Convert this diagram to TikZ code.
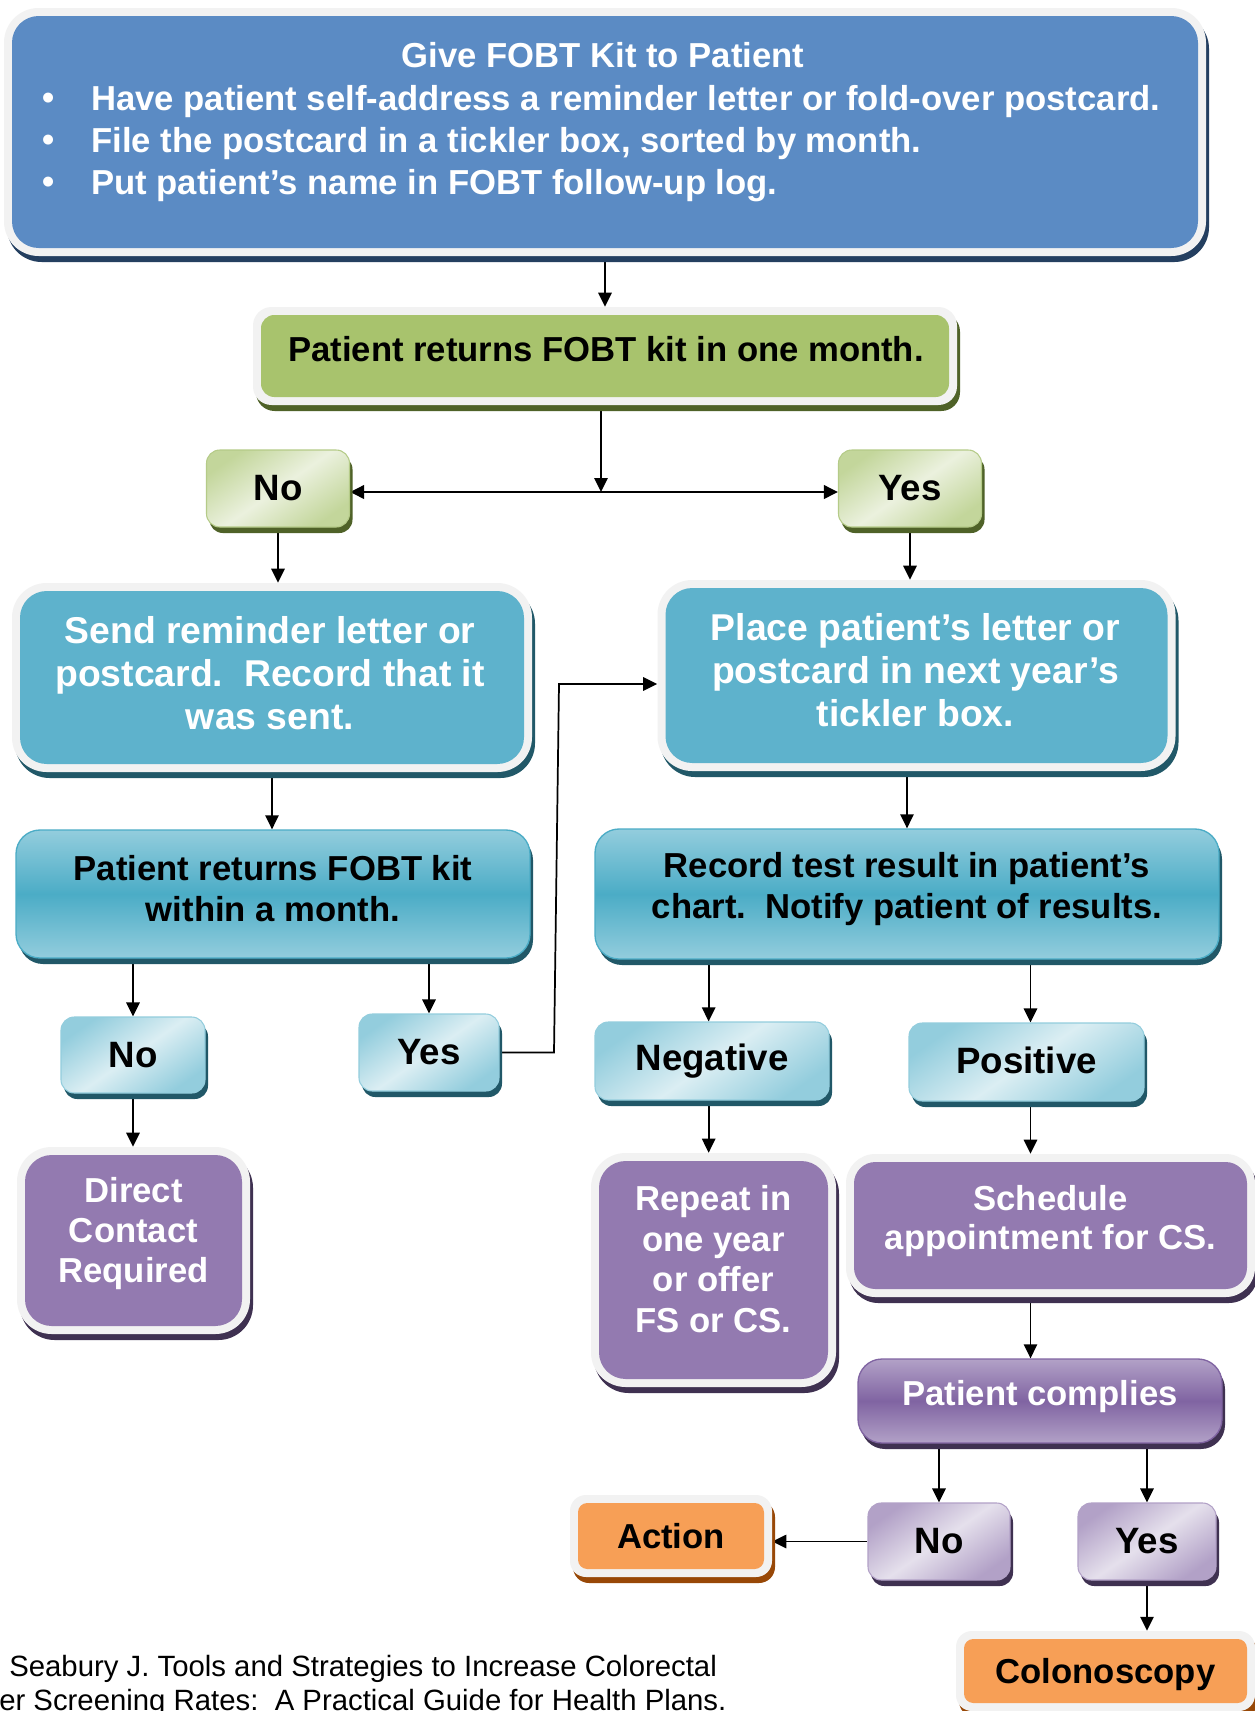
\documentclass[tikz,border=0pt]{standalone}
\usepackage{fontspec}
\setmainfont{Liberation Sans}
\usetikzlibrary{arrows.meta,backgrounds,calc}
\frenchspacing
\definecolor{frameC}{HTML}{F2F2F2}
\definecolor{blueF}{HTML}{5B8BC4}
\definecolor{blueS}{HTML}{243F60}
\definecolor{greenF}{HTML}{A8C36D}
\definecolor{greenS}{HTML}{4F6228}
\definecolor{greenL}{HTML}{EBF1DE}
\definecolor{greenM}{HTML}{C3D69B}
\definecolor{greenB}{HTML}{B5CB88}
\definecolor{tealF}{HTML}{5EB2CC}
\definecolor{tealS}{HTML}{215868}
\definecolor{tealO}{HTML}{93CDDD}
\definecolor{tealM}{HTML}{4BACC6}
\definecolor{tealL}{HTML}{DBEEF3}
\definecolor{purpF}{HTML}{937AB0}
\definecolor{purpS}{HTML}{3F3151}
\definecolor{purpO}{HTML}{B2A1C7}
\definecolor{purpM}{HTML}{8064A2}
\definecolor{purpL}{HTML}{E5E0EC}
\definecolor{orangeF}{HTML}{F79F56}
\definecolor{orangeS}{HTML}{984807}
\newcommand{\fsA}{\fontsize{26}{31.5}\selectfont}
\newcommand{\fsB}{\fontsize{28}{32.3}\selectfont}
\newcommand{\fsC}{\fontsize{26}{30.3}\selectfont}
\newcommand{\fsD}{\fontsize{26}{30}\selectfont}
\newcommand{\fsE}{\fontsize{26}{29.5}\selectfont}
\newcommand{\fsF}{\fontsize{27.5}{30}\selectfont}
\newcommand{\fsG}{\fontsize{22}{25.5}\selectfont}
\tikzset{
  sz/.style 2 args={minimum width=#1*0.75pt, minimum height=#2*0.75pt, inner sep=0pt},
  shad/.style={preaction={fill=#1, transform canvas={shift={(2.25pt,-4.5pt)}}}},
  fbx/.style n args={4}{fill=frameC, rounded corners=#3, shad=#2,
    path picture={\fill[#1, rounded corners=#4] ([shift={(6pt,-6pt)}]path picture bounding box.north west) rectangle ([shift={(-6pt,6pt)}]path picture bounding box.south east);}},
  gradbox/.style n args={4}{top color=#1, bottom color=#1, middle color=#2, draw=#3, line width=1pt, rounded corners=18pt, shad=#4},
  smallbox/.style n args={4}{top color=#1, bottom color=#1, middle color=#2, shading angle=35, draw=#3, line width=0.8pt, rounded corners=10pt, shad=#4, font=\bfseries\fsF},
  arr/.style={line width=1.3pt, -{Triangle[length=10.5pt,width=10pt]}},
  wtxt/.style={text=white, font=\bfseries\fsA, inner sep=0pt},
  btxt/.style={text=black, font=\bfseries\fsA, inner sep=0pt, align=center},
}
\begin{document}
\begin{tikzpicture}[x=0.75pt,y=-0.75pt]
\path[use as bounding box, clip] (0,0) rectangle (1255,1711);

% top box
\node[fbx={blueF}{blueS}{26pt}{20pt}, sz={1202}{248}] (top) at (605,132) {};
\node[wtxt] (title) at (603,55) {Give FOBT Kit to Patient};
\node[wtxt] (d1) at (49,101) {•};
\node[wtxt] (d2) at (49,143) {•};
\node[wtxt] (d3) at (49,185) {•};
\node[wtxt, anchor=west] (b1) at (91,102) {Have patient self-address a reminder letter or fold-over postcard.};
\node[wtxt, anchor=west] (b2) at (91,144) {File the postcard in a tickler box, sorted by month.};
\node[wtxt, anchor=west] (b3) at (91,186) {Put patient’s name in FOBT follow-up log.};

\node[fbx={greenF}{greenS}{14pt}{10pt}, sz={704}{98}] (green) at (605,356) {};
\node[btxt] (greent) at (606,349.5) {Patient returns FOBT kit in one month.};

\node[smallbox={greenM}{greenL}{greenB}{greenS}, sz={143}{77}] (no1) at (278,488.5) {No};
\node[smallbox={greenM}{greenL}{greenB}{greenS}, sz={143}{77}] (yes1) at (910,488.5) {Yes};

\node[fbx={tealF}{tealS}{26pt}{20pt}, sz={520}{189}] (send) at (272,677.5) {};
\node[wtxt, font=\bfseries\fsB, align=center] (sendt) at (270,673) {Send reminder letter or\\postcard.~ Record that it\\was sent.};
\node[fbx={tealF}{tealS}{26pt}{20pt}, sz={518}{191}] (place) at (916.5,675.5) {};
\node[wtxt, font=\bfseries\fsB, align=center] (placet) at (915.5,670) {Place patient’s letter or\\postcard in next year’s\\tickler box.};

\node[gradbox={tealO}{tealM}{tealM}{tealS}, sz={514}{128}] (within) at (273,894) {};
\node[btxt, font=\bfseries\fsC] (withint) at (273,888.5) {Patient returns FOBT kit\\within a month.};
\node[gradbox={tealO}{tealM}{tealM}{tealS}, sz={624}{130}] (record) at (907,894) {};
\node[btxt, font=\bfseries\fsC] (recordt) at (907,889) {Record test result in patient’s\\chart.~ Notify patient of results.};

\node[smallbox={tealO}{tealL}{tealO}{tealS}, sz={144}{76}] (no2) at (133,1055) {No};
\node[smallbox={tealO}{tealL}{tealO}{tealS}, sz={140}{77}] (yes2) at (429,1052.5) {Yes};

\node[fbx={purpF}{purpS}{26pt}{20pt}, sz={233}{187}] (direct) at (133.5,1240.5) {};
\node[wtxt, font=\bfseries\fsD, align=center] (directt) at (133.5,1234) {Direct\\Contact\\Required};

\node[smallbox={tealO}{tealL}{tealO}{tealS}, sz={234}{78}] (neg) at (712,1061) {Negative};
\node[smallbox={tealO}{tealL}{tealO}{tealS}, sz={235}{78}, text depth=0.21em] (pos) at (1026.5,1062) {Positive};

\node[fbx={purpF}{purpS}{26pt}{20pt}, sz={245}{234}] (rep) at (713.5,1270) {};
\node[wtxt, font=\bfseries\fsC, align=center] (rept) at (713.5,1259) {Repeat in\\one year\\or offer\\FS or CS.};
\node[fbx={purpF}{purpS}{22pt}{16pt}, sz={409}{143}] (sched) at (1050.5,1225.5) {};
\node[wtxt, font=\bfseries\fsE, align=center] (schedt) at (1050.5,1221) {Schedule\\appointment for CS.};

\node[gradbox={purpO}{purpM}{purpM}{purpS}, sz={364}{84}] (comply) at (1040,1401) {};
\node[wtxt] (complyt) at (1040,1396.6) {Patient complies};

\node[smallbox={purpO}{purpL}{purpO}{purpS}, sz={142}{77}] (no3) at (939,1541.5) {No};
\node[smallbox={purpO}{purpL}{purpO}{purpS}, sz={138}{77}] (yes3) at (1147,1541.5) {Yes};

\node[fbx={orangeF}{orangeS}{12pt}{7pt}, sz={202}{82}] (action) at (671,1536) {};
\node[btxt] (actiont) at (671,1536) {Action};
\node[fbx={orangeF}{orangeS}{12pt}{7pt}, sz={299}{80}] (colon) at (1105.5,1671) {};
\node[btxt] (colont) at (1105.5,1675) {Colonoscopy};

\node[font=\fsG, anchor=west, inner sep=0pt] (cit1) at (9,1669) {Seabury J. Tools and Strategies to Increase Colorectal};
\node[font=\fsG, anchor=west, inner sep=0pt] (cit2) at (-1,1703) {er Screening Rates:~ A Practical Guide for Health Plans.};

\begin{scope}[on background layer]
\fill[white] (0,0) rectangle (1255,1711);
\draw[arr] (top.south) -- (top.south |- green.north);
\coordinate (j) at (601,492);
\draw[arr] (green.south -| j) -- (j);
\draw[arr, line width=2pt] (j) -- (j -| no1.east);
\draw[arr, line width=2pt] (j) -- (j -| yes1.west);
\draw[arr] (no1.south) -- (no1.south |- send.north);
\draw[arr] (yes1.south) -- (yes1.south |- place.north);
\draw[arr] (send.south) -- (send.south |- within.north);
\draw[arr] (record.north |- place.south) -- (record.north);
\draw[arr] (no2.north |- within.south) -- (no2.north);
\draw[arr] (yes2.north |- within.south) -- (yes2.north);
\coordinate (k1) at (554,1053);
\coordinate (k2) at (559,684);
\draw[arr] (yes2.east) -- (yes2.east -| k1) -- (k2) -- (k2 -| place.west);
\draw[arr] (no2.south) -- (no2.south |- direct.north);
\draw[arr] ([xshift=-2.5pt]neg.north |- record.south) -- ([xshift=-2.5pt]neg.north);
\draw[arr] ([xshift=3pt]pos.north |- record.south) -- ([xshift=3pt]pos.north);
\draw[arr] ([xshift=-2.5pt]neg.south) -- ([xshift=-2.5pt]neg.south |- rep.north);
\draw[arr] ([xshift=3pt]pos.south) -- ([xshift=3pt]pos.south |- sched.north);
\draw[arr] ([xshift=3pt]pos.south |- sched.south) -- ([xshift=3pt]pos.south |- comply.north);
\draw[arr] (no3.north |- comply.south) -- (no3.north);
\draw[arr] (yes3.north |- comply.south) -- (yes3.north);
\draw[arr] (no3.west) -- (no3.west -| action.east);
\draw[arr] (yes3.south) -- (yes3.south |- colon.north);
\end{scope}
\end{tikzpicture}
\end{document}
